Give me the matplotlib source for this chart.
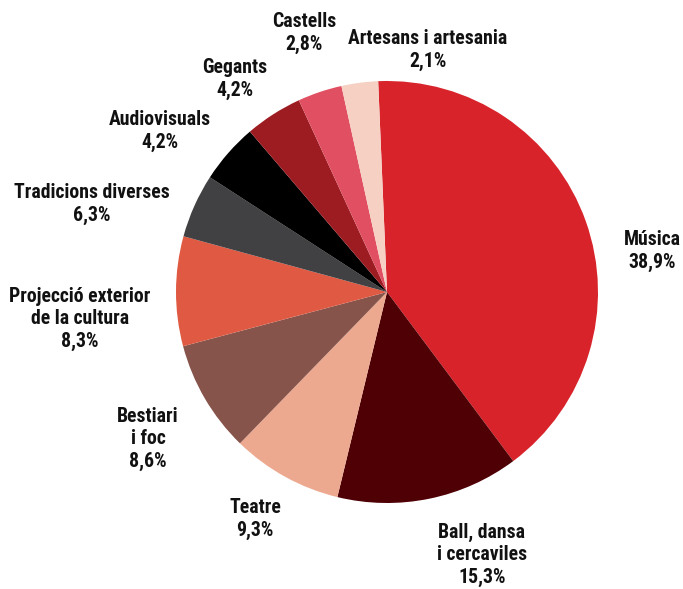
import matplotlib
matplotlib.use('Agg')
import matplotlib.pyplot as plt

# categories and the percentages printed on the chart
categories = ['Música', 'Ball, dansa\ni cercaviles', 'Teatre', 'Bestiari\ni foc',
              'Projecció exterior\nde la cultura', 'Tradicions diverses',
              'Audiovisuals', 'Gegants', 'Castells', 'Artesans i artesania']
pct_label = ['38,9%', '15,3%', '9,3%', '8,6%', '8,3%', '6,3%', '4,2%', '4,2%', '2,8%', '2,1%']
# slice sizes as drawn in the picture (percent of the circle)
slice_share = [40.5, 14.0, 8.5, 8.6, 8.4, 4.9, 4.6, 4.4, 3.4, 2.8]

colors = ['#d9232b', '#4f0005', '#eda98f', '#86544b', '#e05a43',
          '#414042', '#000000', '#9d1c22', '#e04f62', '#f6d1c3']

# label centres, in pixels from top-left
label_xy = [(652, 251), (482, 555), (255, 519), (148, 439), (80, 319),
            (92, 204), (160, 131), (235, 79), (304, 33), (428, 50)]

W, H = 683, 589
fig = plt.figure(figsize=(W / 100, H / 100), dpi=100)
ax = fig.add_axes([0, 0, 1, 1])

ax.pie(slice_share, colors=colors, startangle=92.4, counterclock=False,
       center=(387, H - 292), radius=211, frame=True,
       wedgeprops=dict(linewidth=0))
ax.set_xlim(0, W)
ax.set_ylim(0, H)
ax.set_aspect('equal')
ax.axis('off')

for cat, pct, (x, y) in zip(categories, pct_label, label_xy):
    ax.text(x, H - y, cat + '\n' + pct, ha='center', va='center',
            fontsize=14.2, fontweight='bold', linespacing=1.2,
            family=['Roboto Condensed', 'DejaVu Sans'], color='#111111')

fig.savefig('out.png', dpi=100)
